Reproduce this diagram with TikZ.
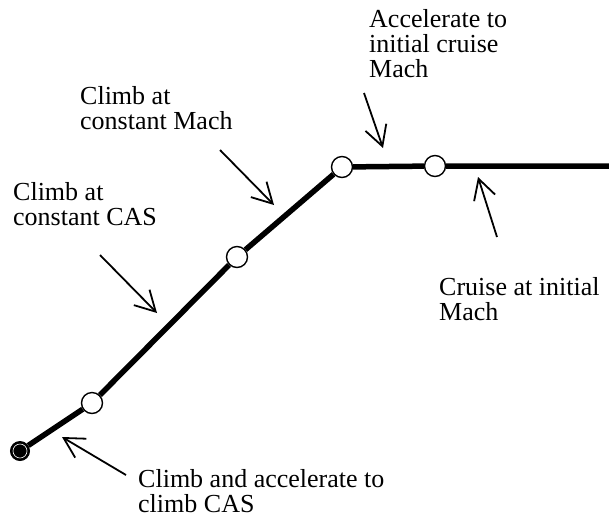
\documentclass[tikz,border=0pt]{standalone}
\usepackage{fontspec}
\setmainfont{Liberation Serif}
\usetikzlibrary{arrows.meta}
\begin{document}
\begin{tikzpicture}[x=1pt,y=-1pt,
  waypoint/.style={circle,draw=black,fill=white,line width=1.4pt,minimum size=21pt,inner sep=0pt},
  startpt/.style={circle,draw=black,fill=black,line width=1pt,minimum size=19pt,inner sep=0pt},
  profile/.style={line width=5.5pt},
  pointer/.style={line width=1.8pt,-{Straight Barb[length=20pt,width=22pt,line width=1.8pt]}},
  label/.style={anchor=base west,align=left,inner sep=0pt,font=\fontsize{26}{25}\selectfont}]
\useasboundingbox (0,0) rectangle (609,520);
% flight profile
\node[startpt] (p0) at (20,451) {};
\node[waypoint] (p1) at (92,403) {};
\node[waypoint] (p2) at (237,257) {};
\node[waypoint] (p3) at (342,167) {};
\node[waypoint] (p4) at (435,166) {};
\coordinate (pend) at (609,166);
\draw[profile] (p0) -- (p1) -- (p2) -- (p3) -- (p4) -- (pend);
\draw[white,line width=0.6pt] (p0) circle (7);
% labels (anchored on the baseline of the last line)
\node[label] (tcas) at (13,225) {Climb at\\constant CAS};
\node[label] (tmach) at (80,129) {Climb at\\constant Mach};
\node[label] (tacc) at (369,77) {Accelerate to\\initial cruise\\Mach};
\node[label] (tcru) at (439,320) {Cruise at initial\\Mach};
\node[label] (tclb) at (138,512) {Climb and accelerate to\\climb CAS};
% pointers
\coordinate (acas0) at (100,255); \coordinate (acas1) at (157,313);
\coordinate (amach0) at (220,150); \coordinate (amach1) at (274,205);
\coordinate (aacc0) at (364,93); \coordinate (aacc1) at (383,148);
\coordinate (acru0) at (497,237); \coordinate (acru1) at (478,177);
\coordinate (aclb0) at (126,475); \coordinate (aclb1) at (62,437);
\draw[pointer] (acas0) -- (acas1);
\draw[pointer] (amach0) -- (amach1);
\draw[pointer] (aacc0) -- (aacc1);
\draw[pointer] (acru0) -- (acru1);
\draw[pointer] (aclb0) -- (aclb1);
\end{tikzpicture}
\end{document}
